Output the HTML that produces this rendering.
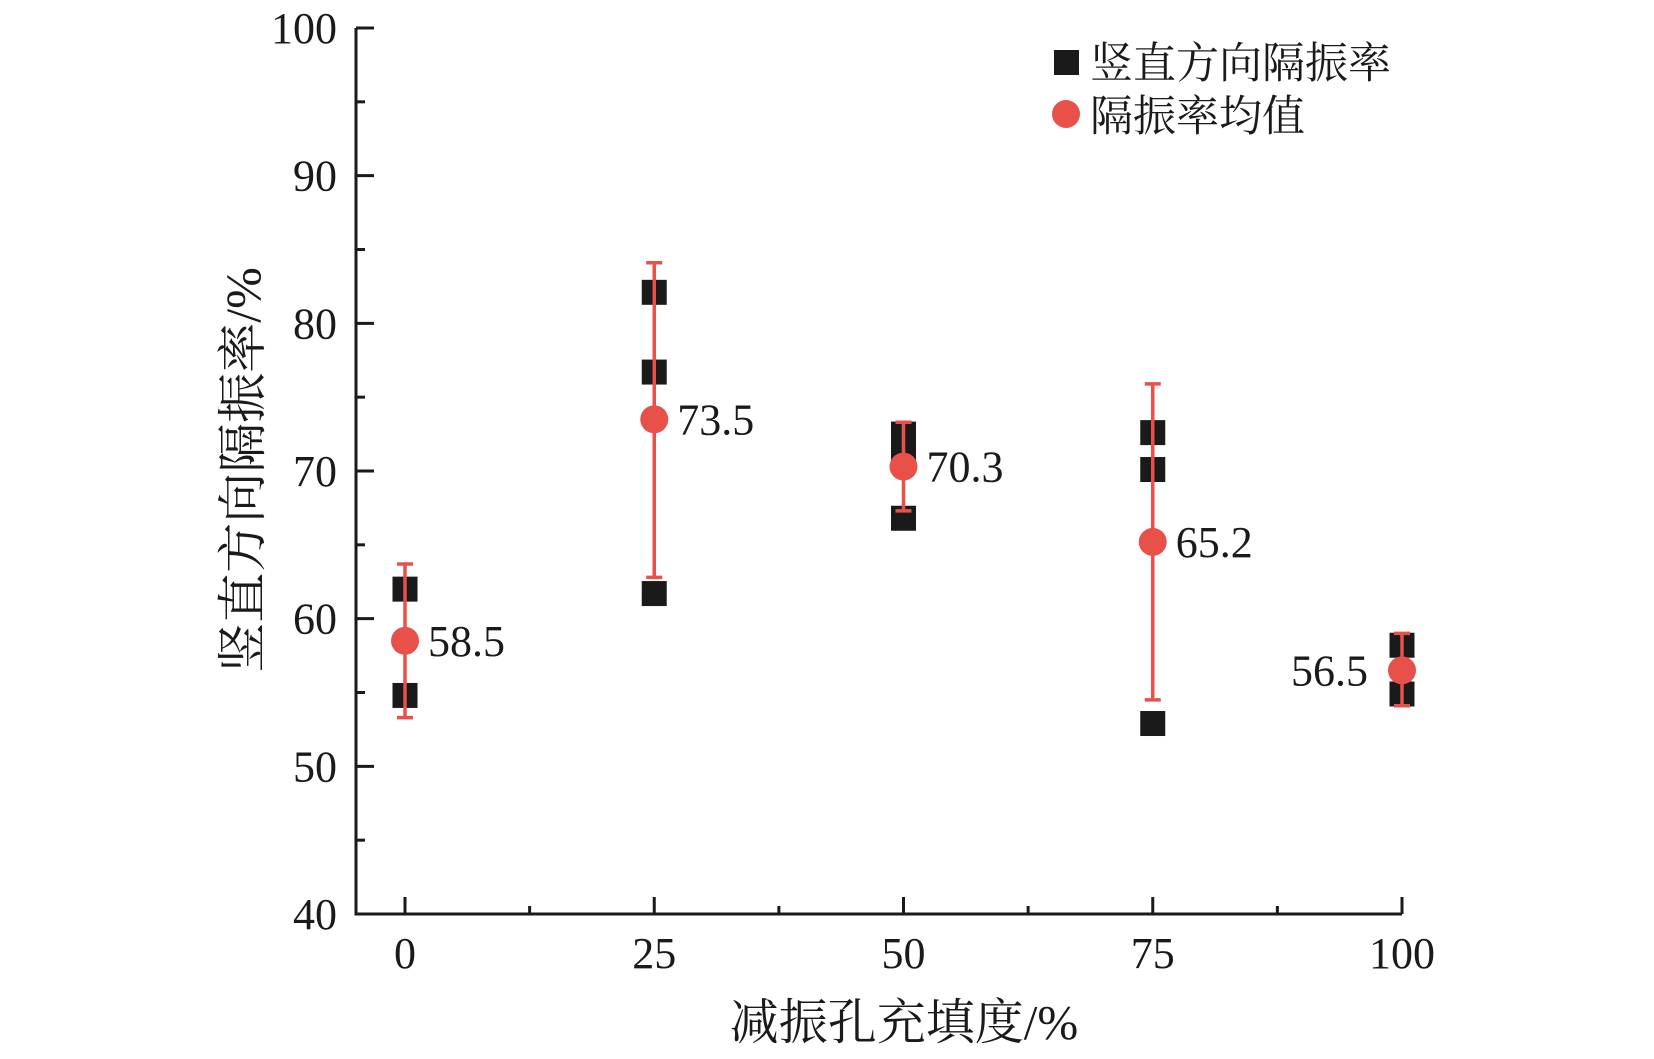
<!DOCTYPE html>
<html><head><meta charset="utf-8"><style>
body{margin:0;background:#fff}
svg{display:block}
text{font-family:"Liberation Serif","Noto Serif CJK SC",serif;fill:#1a1a1a}
</style></head><body>
<svg id="chart" width="1654" height="1059">
<g id="axes"></g><g id="marks"></g>
<g>
<rect x="1054" y="50" width="25" height="25" fill="#1a1a1a"/>
<text x="1090" y="78" font-size="43">竖直方向隔振率</text>
<circle cx="1066" cy="114" r="14" fill="#e8504a"/>
<text x="1090" y="131" font-size="43">隔振率均值</text>
</g>
<text x="904" y="1039" font-size="49" text-anchor="middle">减振孔充填度/%</text>
<text transform="translate(260,470) rotate(-90)" font-size="50" text-anchor="middle">竖直方向隔振率/%</text>
</svg>
<script>
const categories=[0,25,50,75,100];
const pointsY=[[62.0,54.8],[82.1,76.7,61.7],[72.5,71.3,66.8],[72.6,70.1,52.9],[58.2,54.9]];
const means=[58.5,73.5,70.3,65.2,56.5];
const errLow=[53.3,62.8,67.3,54.5,54.1];
const errHigh=[63.7,84.1,73.3,75.9,59.0];
const meanLabels=["58.5","73.5","70.3","65.2","56.5"];
const yTicks=[40,50,60,70,80,90,100];
const xTicks=[0,25,50,75,100];
const NS="http://www.w3.org/2000/svg";
const X=v=>405+v*(1402-405)/100, Y=v=>914-(v-40)*(914-28)/60;
const axes=document.getElementById('axes'), marks=document.getElementById('marks');
function mk(p,tag,at){const e=document.createElementNS(NS,tag);for(const k in at)e.setAttribute(k,at[k]);p.appendChild(e);return e;}
let e=mk(axes,'path',{d:`M356 ${Y(100)} V914 H1402`,stroke:'#1a1a1a','stroke-width':3,fill:'none'});


for(let v=40;v<=100;v+=5){const maj=v%10===0;
 e=mk(axes,'line',{x1:356,x2:356+(maj?18:9),y1:Y(v),y2:Y(v),stroke:'#1a1a1a','stroke-width':3});
 
 }
yTicks.forEach(v=>{e=mk(axes,'text',{x:337,y:Y(v)+15,'font-size':44,'text-anchor':'end'});e.textContent=v;
 
 });
for(let v=0;v<=100;v+=12.5){const maj=v%25===0;
 e=mk(axes,'line',{x1:X(v),x2:X(v),y1:914,y2:914-(maj?17:8),stroke:'#1a1a1a','stroke-width':3});
 
 }
xTicks.forEach(v=>{e=mk(axes,'text',{x:X(v),y:968,'font-size':44,'text-anchor':'middle'});e.textContent=v;
 
 });
categories.forEach((c,i)=>{const x=X(c);
 pointsY[i].forEach(v=>{e=mk(marks,'rect',{x:x-12.5,y:Y(v)-12.5,width:25,height:25,fill:'#1a1a1a'});
  
  });
 e=mk(marks,'path',{d:`M${x} ${Y(errLow[i])}V${Y(errHigh[i])}M${x-8} ${Y(errLow[i])}H${x+8}M${x-8} ${Y(errHigh[i])}H${x+8}`,stroke:'#e8504a','stroke-width':3.5,fill:'none'});
 
 
 e=mk(marks,'circle',{cx:x,cy:Y(means[i]),r:14,fill:'#e8504a'});
 
 
 const left=i===4;
 e=mk(marks,'text',{x:left?x-34:x+23,y:Y(means[i])+15,'font-size':44,'text-anchor':left?'end':'start'});
 e.textContent=meanLabels[i];
 
 
});
</script>
</body></html>
